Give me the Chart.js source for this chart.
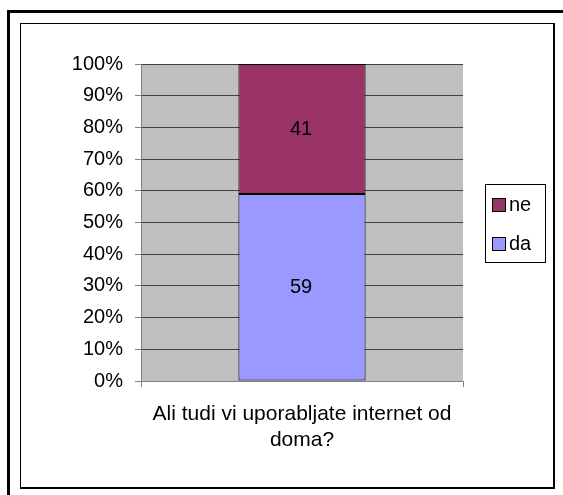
<!DOCTYPE html>
<html>
<head>
<meta charset="utf-8">
<script src="https://cdn.jsdelivr.net/npm/chart.js@4.4.1/dist/chart.umd.min.js"></script>
<style>
    html, body { margin: 0; padding: 0; background: #fff; }
    body { width: 563px; height: 495px; position: relative; overflow: hidden; }
    #outer { position: absolute; left: 7px; top: 10px; width: 600px; height: 600px;
        border-left: 3px solid #000; border-top: 3px solid #000; }
    #inner { position: absolute; left: 20px; top: 23px; width: 532px; height: 463px;
        border: 1px solid #000; border-right-width: 2px; border-bottom-width: 2px; background: #fff; }
    #chart { position: absolute; left: 0; top: 0; }
</style>
</head>
<body>
<div id="outer"></div>
<div id="inner"></div>
<canvas id="chart" width="563" height="495"></canvas>
<script>
// ============ Data ============
const categories = [['Ali tudi vi uporabljate internet od', 'doma?']];
const seriesNames = ['da', 'ne'];
const daValues = [59];
const neValues = [41];
const yTicks = [0, 10, 20, 30, 40, 50, 60, 70, 80, 90, 100];

const FONT = '"Liberation Sans", Arial, sans-serif';
const colors = { da: '#9999ff', ne: '#993366' };

// plot box in page px
const PLOT = { left: 141, top: 64, right: 463, bottom: 381 };

const plotBg = {
    id: 'plotBg',
    beforeDraw(chart) {
        const a = chart.chartArea, ctx = chart.ctx;
        ctx.save();
        ctx.fillStyle = '#c0c0c0';
        ctx.fillRect(a.left, a.top, a.right - a.left, a.bottom - a.top);
        ctx.restore();
    }
};

const valueLabels = {
    id: 'valueLabels',
    afterDatasetsDraw(chart) {
        const ctx = chart.ctx;
        ctx.save();
        ctx.font = '20px ' + FONT;
        ctx.fillStyle = '#000';
        ctx.textAlign = 'center';
        ctx.textBaseline = 'middle';
        chart.data.datasets.forEach((ds, i) => {
            chart.getDatasetMeta(i).data.forEach((bar, j) => {
                const p = bar.getProps(['x', 'y', 'base'], true);
                ctx.fillText(String(ds.data[j]), p.x - 1, (p.y + p.base) / 2);
            });
        });
        ctx.restore();
    }
};

const boxLegend = {
    id: 'boxLegend',
    afterDraw(chart) {
        const ctx = chart.ctx;
        const x = 485, y = 184, w = 60, h = 78;
        ctx.save();
        ctx.fillStyle = '#fff';
        ctx.fillRect(x, y, w, h);
        ctx.strokeStyle = '#000';
        ctx.lineWidth = 1;
        ctx.strokeRect(x + 0.5, y + 0.5, w, h);
        ctx.font = '20px ' + FONT;
        ctx.textBaseline = 'middle';
        const items = chart.data.datasets.slice().reverse();
        items.forEach((ds, i) => {
            const cy = y + 21 + i * 39;
            ctx.fillStyle = ds.backgroundColor;
            ctx.fillRect(x + 7.5, cy - 6.5, 13, 13);
            ctx.strokeRect(x + 7.5, cy - 6.5, 13, 13);
            ctx.fillStyle = '#000';
            ctx.fillText(ds.label, x + 24, cy);
        });
        ctx.restore();
    }
};

new Chart(document.getElementById('chart'), {
    type: 'bar',
    data: {
        labels: categories,
        datasets: [
            { label: seriesNames[0], data: daValues, backgroundColor: colors.da,
              borderColor: '#000', borderWidth: 1, borderSkipped: false },
            { label: seriesNames[1], data: neValues, backgroundColor: colors.ne,
              borderColor: '#000', borderWidth: 1, borderSkipped: false }
        ]
    },
    options: {
        responsive: false,
        animation: false,
        devicePixelRatio: 1,
        layout: { padding: { left: 20, top: PLOT.top, right: 563 - PLOT.right, bottom: 0 } },
        datasets: { bar: { categoryPercentage: 1, barPercentage: 0.395 } },
        plugins: { legend: { display: false }, tooltip: { enabled: false } },
        scales: {
            x: {
                stacked: true,
                offset: true,
                afterFit(s) { s.height = 495 - PLOT.bottom; },
                border: { color: '#808080', width: 1 },
                grid: { display: true, drawOnChartArea: false, tickLength: 6, color: '#808080', offset: true },
                ticks: { color: '#000', font: { family: FONT, size: 21, lineHeight: '26px' }, padding: 14,
                    maxRotation: 0, autoSkip: false }
            },
            y: {
                stacked: true,
                min: 0, max: 100,
                afterFit(s) { s.width = PLOT.left - 20; },
                afterBuildTicks(s) { s.ticks = yTicks.map(v => ({ value: v })); },
                border: { color: '#808080', width: 1 },
                grid: { color: '#404040', lineWidth: 1, tickLength: 6, tickColor: '#808080' },
                ticks: { color: '#000', font: { family: FONT, size: 20 }, padding: 12,
                    callback: v => v + '%' }
            }
        }
    },
    plugins: [plotBg, valueLabels, boxLegend]
});
</script>
</body>
</html>
